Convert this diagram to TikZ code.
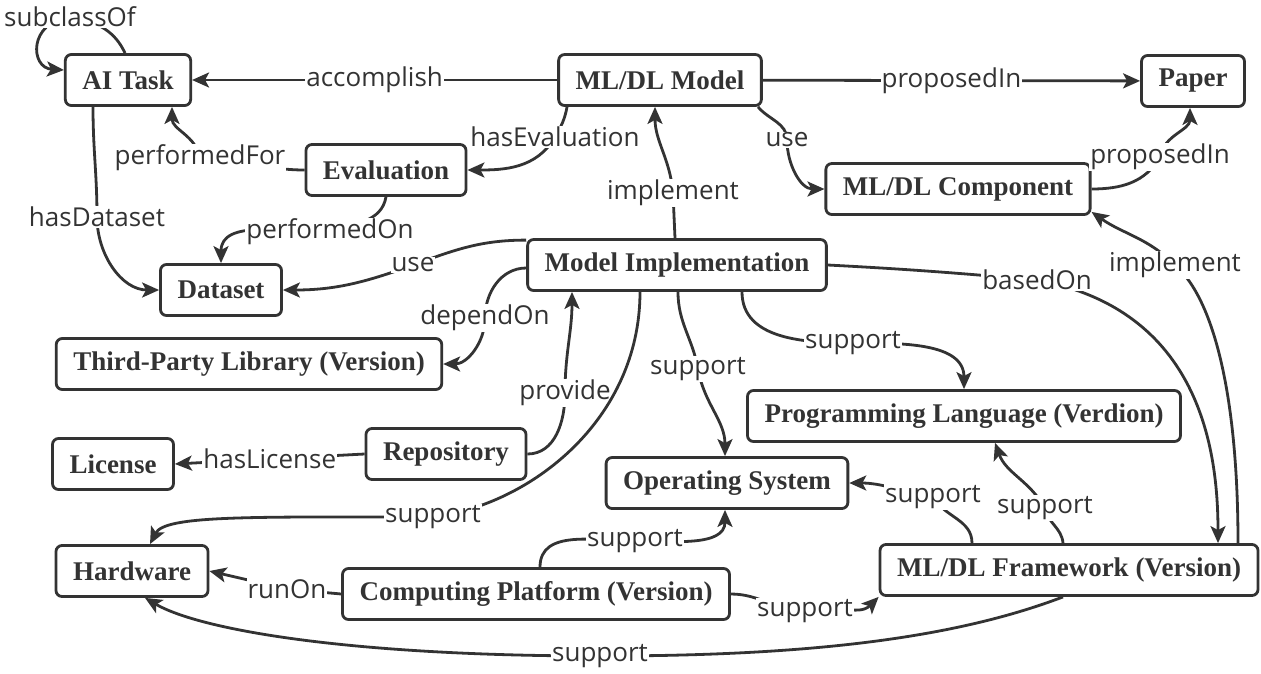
\documentclass[tikz,border=0pt]{standalone}
\usepackage{fontspec}
\setmainfont{Liberation Serif}
\newfontfamily\lblfont{Open Sans}
\definecolor{DarkGray}{RGB}{51,51,51}
\usetikzlibrary{arrows.meta,positioning}
\tikzset{
  entity/.style={draw=DarkGray, line width=2.8pt, rounded corners=6pt, minimum height=51pt, inner xsep=17pt, text=DarkGray, font=\fontsize{27}{30}\selectfont\bfseries},
  rel/.style={-{Stealth[length=17pt,width=15pt,inset=4pt]}, draw=DarkGray, line width=2.8pt},
  lbl/.style={fill=white, inner sep=1pt, text=DarkGray, font=\lblfont\fontsize{26}{28}\selectfont},
}

\begin{document}
\begin{tikzpicture}[x=1pt,y=-1pt]
  \useasboundingbox (0,0) rectangle (1261,673);
  % entities
  \node[entity] (ai) at (128,80) {AI Task};
  \node[entity] (model) at (660,80) {ML/DL Model};
  \node[entity] (paper) at (1193,81) {Paper};
  \node[entity] (eval) at (386,170) {Evaluation};
  \node[entity] (comp) at (958,189) {ML/DL Component};
  \node[entity] (dataset) at (221,290) {Dataset};
  \node[entity] (impl) at (677,265) {Model Implementation};
  \node[entity] (third) at (249,364) {Third-Party Library (Version)};
  \node[entity] (pl) at (964,416) {Programming Language (Verdion)};
  \node[entity] (license) at (113,464) {License};
  \node[entity] (repo) at (446,454) {Repository};
  \node[entity] (os) at (727,483) {Operating System};
  \node[entity] (hardware) at (132,571) {Hardware};
  \node[entity] (cp) at (536,594) {Computing Platform (Version)};
  \node[entity] (fw) at (1069,570) {ML/DL Framework (Version)};

  % relations of the model
  \draw[rel] ([xshift=-3pt]ai.north) .. controls (118,38) and (105,22) .. (70,17) node[lbl] {subclassOf} .. controls (28,22) and (30,68) .. ([yshift=10pt]ai.west);
  \draw[rel] (model) -- node[lbl] {accomplish} (ai);
  \draw[rel] (model) -- node[lbl] {proposedIn} (paper);
  \draw[rel] ([xshift=-93pt]model.south) to[out=-100,in=60] (555,137) node[lbl] {hasEvaluation} to[out=-120,in=0] (eval.east);
  \draw[rel] (eval.west) to[out=180,in=0] (200,158) node[lbl] {performedFor} to[out=100,in=-90] ([xshift=44pt]ai.south);
  \draw[rel] (eval.south) to[out=-100,in=20] (330,232) node[lbl] {performedOn} to[out=180,in=90] (dataset.north);
  \draw[rel] ([xshift=-35pt]ai.south) to[out=-90,in=90] (97,217) node[lbl] {hasDataset} to[out=-90,in=180] (dataset.west);
  \draw[rel] ([xshift=98pt]model.south) to[out=-50,in=90] (787,140) node[lbl] {use} to[out=-90,in=180] (comp.west);
  \draw[rel] (comp.east) to[out=0,in=-120] (1160,157) node[lbl] {proposedIn} to[out=80,in=-90] ([xshift=-3pt]paper.south);

  % relations of the implementation
  \draw[rel] ([xshift=-2pt]impl.north) -- (673,193) node[lbl] {implement} to[out=95,in=-90] ([xshift=-5pt]model.south);
  \draw[rel] ([yshift=-2pt]impl.north west) to[out=180,in=20] (413,265) node[lbl] {use} to[out=200,in=0] (dataset.east);
  \draw[rel] ([yshift=-3pt]impl.west) to[out=180,in=90] (485,318) node[lbl] {dependOn} to[out=-90,in=0] (third.east);
  \draw[rel] (repo.east) to[out=0,in=-90] (565,393) node[lbl] {provide} to[out=90,in=-90] ([xshift=-105pt]impl.south);
  \draw[rel] (repo.west) -- node[lbl] {hasLicense} (license.east);
  \draw[rel] ([xshift=-37pt]impl.south) .. controls (640,420) and (530,505) .. (433,517) node[lbl] {support} .. controls (250,517) and (165,515) .. ([xshift=18pt]hardware.north);
  \draw[rel] ([xshift=1pt]impl.south) to[out=-90,in=100] (698,369) node[lbl] {support} to[out=-80,in=90] ([xshift=-2pt]os.north);
  \draw[rel] ([xshift=65pt]impl.south) to[out=-90,in=180] (853,343) node[lbl] {support} to[out=0,in=90] (pl.north);
  \draw[rel] (impl.east) to[out=-3,in=175] (1037,280) node[lbl] {basedOn} .. controls (1200,310) and (1218,450) .. ([xshift=149pt]fw.north);
  \draw[rel] ([xshift=169pt]fw.north) .. controls (1238,400) and (1215,300) .. (1175,265) node[lbl] {implement} to[out=135,in=-35] ([yshift=4pt]comp.south east);

  % relations of the platform
  \draw[rel] ([xshift=4pt]cp.north) to[out=90,in=180] (635,541) node[lbl] {support} to[out=0,in=-90] ([xshift=-2pt]os.south);
  \draw[rel] (cp.west) -- (287,589) node[lbl] {runOn} -- (hardware.east);
  \draw[rel] (cp.east) to[out=0,in=180] (805,611) node[lbl] {support} to[out=20,in=-135] (fw.south west);
  \draw[rel] ([xshift=-97pt]fw.north) to[out=90,in=-60] (933,497) node[lbl] {support} to[out=170,in=0] (os.east);
  \draw[rel] ([xshift=-6pt]fw.north) to[out=95,in=-80] (1045,508) node[lbl] {support} to[out=120,in=-70] ([xshift=31pt]pl.south);
  \draw[rel] ([xshift=-6pt]fw.south) .. controls (950,640) and (800,656) .. (600,656) node[lbl] {support} .. controls (350,656) and (200,630) .. ([xshift=13pt]hardware.south);
\end{tikzpicture}
\end{document}
